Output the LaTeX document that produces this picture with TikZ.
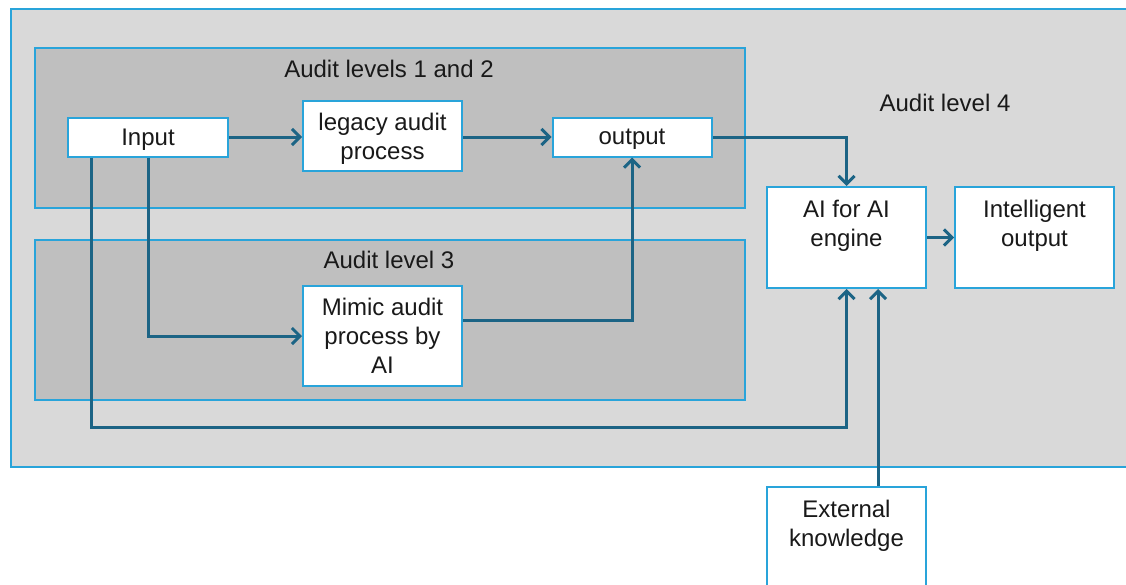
\documentclass[tikz,border=0pt]{standalone}
\usepackage{fontspec}
\setmainfont{Liberation Sans}
\usetikzlibrary{arrows.meta, calc}
\definecolor{boxblue}{RGB}{41,164,218}
\definecolor{linkteal}{RGB}{28,100,133}
\definecolor{levelfour}{RGB}{217,217,217}
\definecolor{levelgrey}{RGB}{191,191,191}

\begin{document}
\begin{tikzpicture}[x=1pt, y=-1pt, every node/.style={font=\fontsize{24}{29}\selectfont, text=black!90}]
% 
% Layout (px):
%  [ Audit levels 1 and 2 : Input -> legacy -> output ]      Audit level 4
%  [ Audit level 3        : Mimic audit process by AI ]   AI for AI engine -> Intelligent output
%                                                            ʌ
%                                                     External knowledge
%
\tikzstyle{outerlevel} = [rectangle, anchor=north west, draw=boxblue, line width=2pt, fill=levelfour, inner sep=0pt]
\tikzstyle{level} = [rectangle, anchor=north west, draw=boxblue, line width=2pt, fill=levelgrey, inner sep=0pt]
\tikzstyle{process} = [rectangle, minimum width=159pt, text centered, draw=boxblue, line width=2pt, fill=white, align=center, inner sep=0pt]
\tikzstyle{arrow} = [line width=3pt, draw=linkteal, -{Straight Barb[length=8pt, width=16pt, line width=3pt]}]
\clip (0,0) rectangle (1126,584);
\fill[white] (0,0) rectangle (1126,584);
% Containers
\node (lvlfour) [outerlevel, minimum width=1140pt, minimum height=458pt] at (10,8) {};
\node (lvlfour_txt) at (945,103) {Audit level 4};
\node (lvlonetwo) [level, minimum width=710pt, minimum height=160pt] at (34,47) {};
\node (lvlonetwo_txt) at (389,69) {Audit levels 1 and 2};
\node (lvlthree) [level, minimum width=710pt, minimum height=160pt] at (34,239) {};
\node (lvlthree_txt) at (389,260) {Audit level 3};
% Nodes
\node (input) [process, minimum width=160pt, minimum height=39pt, text depth=0pt] at (148,137) {Input};
\node (legacy) [process, minimum height=70pt, text depth=0pt] at (382.5,136) {legacy audit\\process};
\node (output) [process, minimum height=39pt, text depth=0pt] at (632,137) {output};
\node (mimic) [process, minimum height=100pt] at (382.5,336) {Mimic audit\\process by\\AI};
\node (aiforai) [process, minimum height=101pt] at (846.5,237.5) {AI for AI\\engine\\\mbox{}};
\node (intel) [process, minimum height=101pt] at (1034.5,237.5) {Intelligent\\output\\\mbox{}};
\node (external) [process, minimum height=101pt] at (846.5,537.5) {External\\knowledge\\\mbox{}};
% Arrows
\draw [arrow] (input) -- (legacy.west |- input);
\draw [arrow] (legacy.east |- input) -- (output);
\draw [arrow] (output.east) -| (aiforai.north);
\draw [arrow] (input.south) |- (mimic.west);
\draw [arrow] ([yshift=16pt]mimic.east) -| (output.south);
\draw [arrow] ([xshift=-57pt]input.south) |- (aiforai.south |- 0,427) -- (aiforai.south);
\draw [arrow] ([xshift=31.5pt]external.north) -- ([xshift=31.5pt]aiforai.south);
\draw [arrow] (aiforai) -- (intel);
\end{tikzpicture}
\end{document}
